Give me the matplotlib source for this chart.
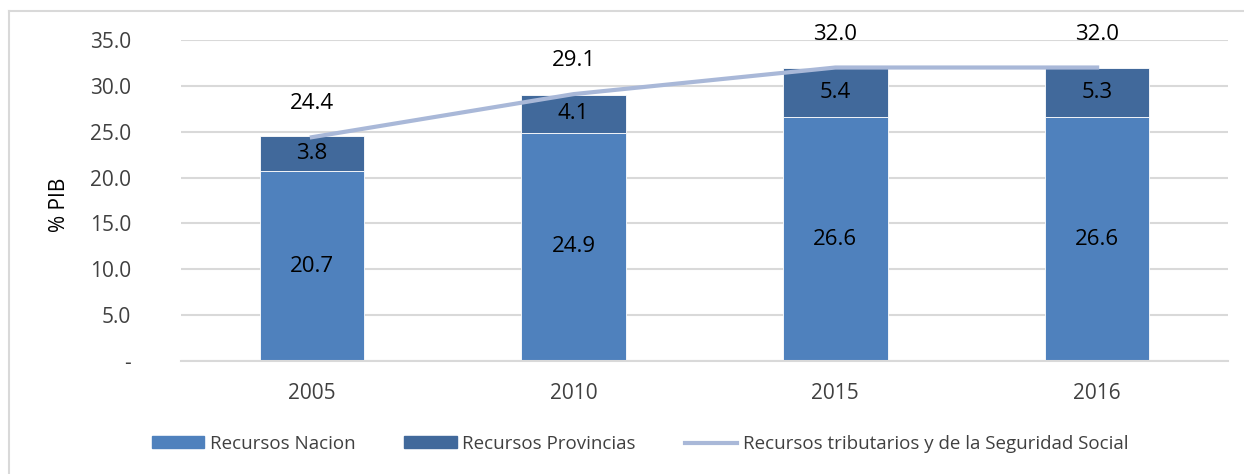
import matplotlib
matplotlib.use("Agg")
import matplotlib.pyplot as plt
from matplotlib.lines import Line2D
import numpy as np

years = ["2005", "2010", "2015", "2016"]
nacion = [20.7, 24.9, 26.6, 26.6]
provincias = [3.8, 4.1, 5.4, 5.3]
total = [24.4, 29.1, 32.0, 32.0]
yticks = [0, 5, 10, 15, 20, 25, 30, 35]
ytick_labels = ["-", "5.0", "10.0", "15.0", "20.0", "25.0", "30.0", "35.0"]

c_nac = "#4F81BD"
c_prov = "#41699B"
c_line = "#A9B8D8"

plt.rcParams['font.family'] = ['Open Sans', 'DejaVu Sans']

W, H = 1244, 474
fig = plt.figure(figsize=(W / 100, H / 100), dpi=100)
ax = fig.add_axes([181 / W, 1 - 361 / H, (1228 - 181) / W, (361 - 40) / H])

x = np.arange(len(years))
ax.bar(x, nacion, width=0.4, color=c_nac, edgecolor="white", linewidth=0.6, zorder=2,
       label="Recursos Nacion")
ax.bar(x, provincias, width=0.4, bottom=nacion, color=c_prov, edgecolor="white",
       linewidth=0.6, zorder=2, label="Recursos Provincias")
ax.plot(x, total, color=c_line, linewidth=3, zorder=3,
        label="Recursos tributarios y de la Seguridad Social")

lab_fs = 16
for xi, n, p, t in zip(x, nacion, provincias, total):
    ax.text(xi, n / 2, f"{n:.1f}", ha="center", va="center", fontsize=lab_fs, color="black", zorder=4)
    ax.text(xi, n + p / 2, f"{p:.1f}", ha="center", va="center", fontsize=lab_fs, color="black", zorder=4)
    ax.annotate(f"{t:.1f}", (xi, t), xytext=(0, 24), textcoords="offset points",
                ha="center", va="center", fontsize=lab_fs, color="black", zorder=4)

ax.set_xlim(-0.5, 3.5)
ax.set_ylim(0, 35)
ax.set_yticks(yticks)
ax.set_yticklabels(ytick_labels)
ax.set_xticks(x)
ax.set_xticklabels(years)
ax.tick_params(axis="y", length=0, pad=36, labelsize=15, labelcolor="#404040")
ax.tick_params(axis="x", length=0, pad=16, labelsize=15, labelcolor="#404040")
ax.yaxis.grid(True, color="#D9D9D9", linewidth=1.5, zorder=0)
ax.set_axisbelow(True)
for s in ["top", "right", "left"]:
    ax.spines[s].set_visible(False)
ax.spines["bottom"].set_color("#D9D9D9")
ax.spines["bottom"].set_linewidth(1.5)

fig.text(60 / W, 1 - 205 / H, "% PIB", rotation=90, ha="center", va="center",
         fontsize=15, color="black")

handles = [
    plt.Rectangle((0, 0), 1, 1, color=c_nac),
    plt.Rectangle((0, 0), 1, 1, color=c_prov),
    Line2D([0], [0], color=c_line, linewidth=3),
]
labels = ["Recursos Nacion", "Recursos Provincias", "Recursos tributarios y de la Seguridad Social"]
fig.legend(handles, labels, loc="center", bbox_to_anchor=(640 / W, 1 - 444 / H), ncol=3,
           frameon=False, fontsize=13.5, labelcolor="#404040", handlelength=2.8,
           handleheight=0.6, columnspacing=2.6, handletextpad=0.3)

# outer border (top and left visible)
fig.add_artist(Line2D([9 / W, 9 / W], [0, 1 - 11 / H], transform=fig.transFigure,
                      color="#D9D9D9", linewidth=1.5))
fig.add_artist(Line2D([9 / W, 1], [1 - 11 / H, 1 - 11 / H], transform=fig.transFigure,
                      color="#D9D9D9", linewidth=1.5))

fig.savefig("out.png", dpi=100)
